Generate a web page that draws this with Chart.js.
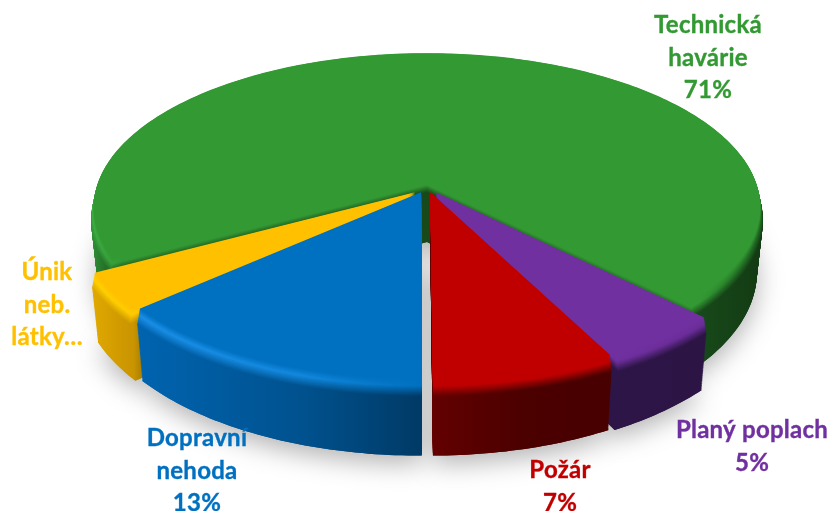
<!DOCTYPE html>
<html>
<head>
<meta charset="utf-8">
<title>Události</title>
<script src="https://cdn.jsdelivr.net/npm/chart.js@4"></script>
<style>
  html, body { margin: 0; padding: 0; background: #fff; }
  #wrap { width: 833px; height: 511px; }
</style>
</head>
<body>
<div id="wrap"><canvas id="graf" width="833" height="511"></canvas></div>
<script>
// Data (shares, labels are rounded)
const categories = ["Technická havárie", "Planý poplach", "Požár", "Dopravní nehoda", "Únik neb. látky…"];
const values = [70.6, 4.9, 7.4, 13.4, 3.7];
const faceColors = ["#339933", "#7030a0", "#c00000", "#0070c0", "#ffc000"];

// Text of the labels, line by line
const labelLines = [
  ["Technická", "havárie", "71%"],
  ["Planý poplach", "5%"],
  ["Požár", "7%"],
  ["Dopravní", "nehoda", "13%"],
  ["Únik", "neb.", "látky…"],
];
const labelAnchors = [[708, 33], [752, 438], [560, 478], [197, 446], [47, 280]];
const labelStep = 32.5;

// Side wall colours along x: [x, wall, rim highlight]
const wallStops = [
  [[92, "#2f8f35", "#3cb043"], [122, "#17491a", "#339933"], [700, "#17491a", "#339933"], [755, "#143c14", "#1f6a22"]],
  [[600, "#2e1548", "#7030a0"], [700, "#2c1445", "#6a2c98"]],
  [[430, "#640000", "#c00000"], [520, "#4c0000", "#c00000"], [610, "#480000", "#c00000"]],
  [[135, "#0064b0", "#1a8fe6"], [300, "#00528f", "#1288de"], [421, "#003a66", "#0070c0"]],
  [[93, "#e0a800", "#ffd000"], [134, "#c89400", "#ffcc00"], [143, "#a87d00", "#ffc000"], [415, "#a87d00", "#ffc000"]],
];

// Projection of the pie plane to the screen (a tilted circle in perspective)
const view = { cx: 427, cy: 180, rx: 332, ry: 151, p: 0.178 };

function project(u, v, z) {
  const w = 1 - view.p * v;
  const shrink = 1 - 0.022 * z;
  return {
    x: view.cx + (view.rx * u / w) * shrink,
    y: view.cy + view.ry * v / w + z * (62 + 11 * v),
  };
}

function hexToRgb(hex) {
  return [1, 3, 5].map((i) => parseInt(hex.substr(i, 2), 16));
}

function mix(a, b, t) {
  const ca = hexToRgb(a);
  const cb = hexToRgb(b);
  return `rgb(${ca.map((c, i) => Math.round(c + (cb[i] - c) * t)).join(",")})`;
}

// Path of one slice, using the angles and radius the pie controller worked out
function slicePath(ctx, el, z, rScale) {
  const R = el.outerRadius;
  const off = (el.options.offset || 0) / 4 / R;
  const mid = (el.startAngle + el.endAngle) / 2;
  // the pulled slices move mostly towards the viewer, only a little sideways
  const ox = Math.cos(mid) * off * 0.55;
  const oy = off;
  const steps = Math.max(4, Math.ceil((el.endAngle - el.startAngle) * 60));
  ctx.beginPath();
  let p = project(ox, oy, z);
  ctx.moveTo(p.x, p.y);
  for (let i = 0; i <= steps; i++) {
    const a = el.startAngle + (el.endAngle - el.startAngle) * i / steps;
    p = project(ox + Math.cos(a) * rScale, oy + Math.sin(a) * rScale, z);
    ctx.lineTo(p.x, p.y);
  }
  ctx.closePath();
}

// Colour of a layer: t = 0 wall, t = 0.6 highlight, t = 1 face
function layerFill(ctx, i, t) {
  const stops = wallStops[i];
  const x0 = stops[0][0];
  const x1 = stops[stops.length - 1][0];
  const g = ctx.createLinearGradient(x0, 0, x1, 0);
  stops.forEach((s) => {
    const c = t < 0.6 ? mix(s[1], s[2], t / 0.6) : mix(s[2], faceColors[i], (t - 0.6) / 0.4);
    g.addColorStop((s[0] - x0) / (x1 - x0), c);
  });
  return g;
}

const pie3d = {
  id: "pie3d",
  beforeDatasetsDraw(chart) {
    const ctx = chart.ctx;
    const arcs = chart.getDatasetMeta(0).data;
    const bevelZ = 0.2;
    const rInset = 0.012;

    ctx.save();
    // shadow below the whole pie
    ctx.shadowColor = "rgba(0,0,0,0.3)";
    ctx.shadowBlur = 26;
    ctx.shadowOffsetY = 8;
    arcs.forEach((el, i) => {
      slicePath(ctx, el, 1, 1);
      ctx.fillStyle = layerFill(ctx, i, 0);
      ctx.fill();
    });
    ctx.shadowColor = "transparent";
    ctx.shadowBlur = 0;
    ctx.shadowOffsetY = 0;

    // side walls, from the bottom up
    for (let z = 1; z > bevelZ; z -= 1 / 80) {
      arcs.forEach((el, i) => {
        slicePath(ctx, el, z, 1);
        ctx.fillStyle = layerFill(ctx, i, 0);
        ctx.fill();
      });
    }
    // rounded rim
    const rimSteps = 24;
    for (let s = 0; s <= rimSteps; s++) {
      const t = s / rimSteps;
      arcs.forEach((el, i) => {
        slicePath(ctx, el, bevelZ * (1 - t), 1 - rInset * t);
        ctx.fillStyle = layerFill(ctx, i, t);
        ctx.fill();
      });
    }
    ctx.restore();
    return false;
  },
  afterDraw(chart) {
    const ctx = chart.ctx;
    ctx.save();
    ctx.font = "bold 24px Lato";
    ctx.letterSpacing = "0.25px";
    ctx.textAlign = "center";
    ctx.textBaseline = "alphabetic";
    ctx.lineWidth = 0.35;
    labelLines.forEach((lines, i) => {
      ctx.fillStyle = faceColors[i];
      ctx.strokeStyle = faceColors[i];
      lines.forEach((line, n) => {
        const y = labelAnchors[i][1] + n * labelStep;
        ctx.fillText(line, labelAnchors[i][0], y);
        ctx.strokeText(line, labelAnchors[i][0], y);
      });
    });
    ctx.restore();
  },
};

new Chart(document.getElementById("graf"), {
  type: "pie",
  data: {
    labels: categories,
    datasets: [
      {
        data: values,
        backgroundColor: faceColors,
        borderWidth: 0,
        hoverOffset: 0,
        offset: [0, 70, 70, 70, 70],
      },
    ],
  },
  options: {
    responsive: false,
    animation: false,
    rotation: 241.3,
    layout: { padding: 0 },
    events: [],
    plugins: { legend: { display: false }, tooltip: { enabled: false } },
  },
  plugins: [pie3d],
});
</script>
</body>
</html>
